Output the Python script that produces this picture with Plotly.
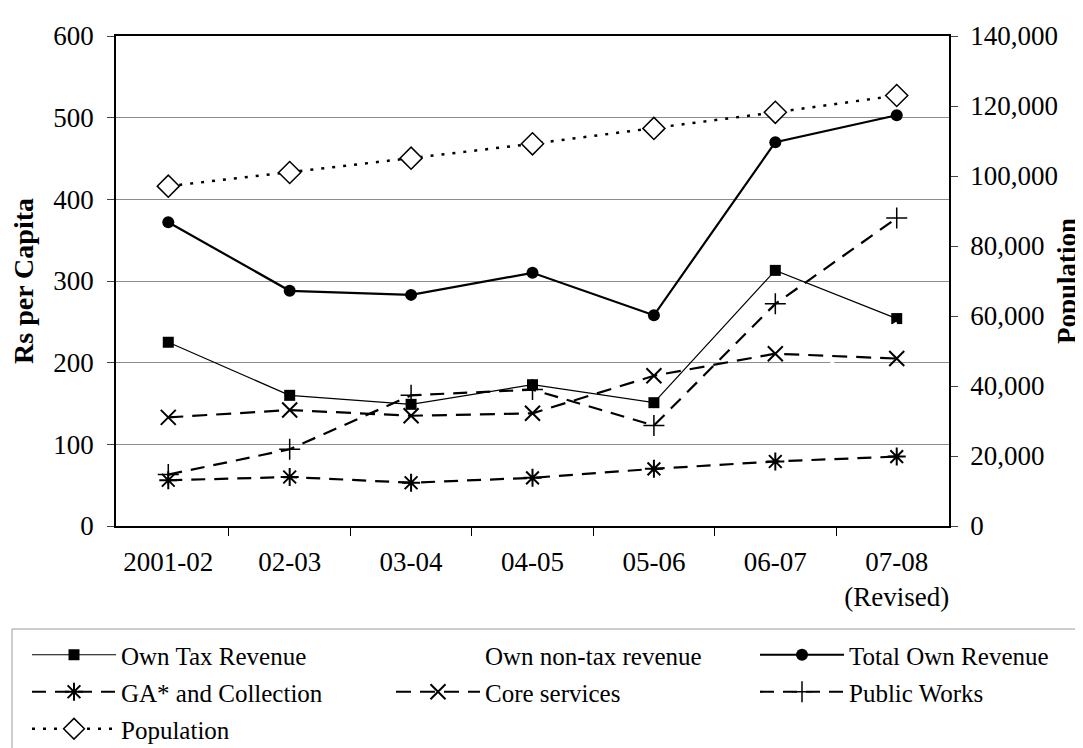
import plotly.graph_objects as go

years = ["2001-02", "02-03", "03-04", "04-05", "05-06", "06-07", "07-08<br>(Revised)"]
own_tax = [225, 160, 149, 173, 151, 313, 254]
own_non_tax = [147, 128, 134, 137, 107, 157, 249]
total_own = [372, 288, 283, 310, 258, 470, 503]
ga_collection = [56, 60, 53, 59, 70, 79, 85]
core_services = [133, 142, 135, 138, 184, 211, 205]
public_works = [63, 94, 160, 167, 123, 272, 377]
population = [97100, 101000, 105100, 109200, 113600, 118200, 123000]

FONT = "Liberation Serif, Times New Roman, serif"
fig = go.Figure()

def add(name, y, width, dash, symbol, size, legend, mline=1.5, yaxis="y", fill="black"):
    fig.add_trace(go.Scatter(
        x=years, y=y, name=name, mode="lines+markers", yaxis=yaxis, legend=legend,
        line=dict(color="black", width=width, dash=dash),
        marker=dict(symbol=symbol, size=size, color=fill,
                    line=dict(color="black", width=mline)),
    ))

add("Own Tax Revenue", own_tax, 1.2, "solid", "square", 11, "legend", mline=0)
fig.add_trace(go.Scatter(x=years, y=own_non_tax, name="Own non-tax revenue", mode="lines",
                         line=dict(color="white", width=2), legend="legend"))
add("Total Own Revenue", total_own, 2.2, "solid", "circle", 12, "legend4", mline=0)
add("GA* and Collection", ga_collection, 2.2, "14px,9px", "asterisk-open", 15, "legend2", mline=2)
add("Core services", core_services, 2.2, "15px,9px", "x-thin-open", 15, "legend2", mline=2)
add("Public Works", public_works, 2.2, "14px,9px", "cross-thin-open", 15, "legend5", mline=1.5)
add("Population", population, 2.5, "3px,8px", "diamond", 17, "legend3", mline=1.5,
    yaxis="y2", fill="white")

px0, px1, py0, py1 = 108, 941, 28, 518
W, H = px1 - px0, py1 - py0

def lx(p):
    return (p - px0) / W

def ly(p):
    return (py1 - p) / H

leg_common = dict(orientation="h", xanchor="left", yanchor="middle", entrywidth=265,
                  entrywidthmode="pixels", itemwidth=84, bgcolor="rgba(0,0,0,0)",
                  font=dict(family=FONT, size=25, color="black"))
rows = [647, 684, 721]
col1, col3 = 19, 747
fig.update_layout(
    width=1083, height=748,
    margin=dict(l=px0, r=1083 - px1, t=py0, b=748 - py1, autoexpand=False),
    paper_bgcolor="white", plot_bgcolor="white",
    font=dict(family=FONT, size=27, color="black"),
    showlegend=True,
    legend=dict(x=lx(col1), y=ly(rows[0]), **leg_common),
    legend4=dict(x=lx(col3), y=ly(rows[0]), **leg_common),
    legend2=dict(x=lx(col1), y=ly(rows[1]), **leg_common),
    legend5=dict(x=lx(col3), y=ly(rows[1]), **leg_common),
    legend3=dict(x=lx(col1), y=ly(rows[2]), **leg_common),
    xaxis=dict(type="category", showline=True, linecolor="black", linewidth=1.5, mirror=True,
               ticks="outside", tickson="boundaries", ticklen=8, tickcolor="black",
               showgrid=False, ticklabelstandoff=11, tickfont=dict(family=FONT, size=27)),
    yaxis=dict(range=[0, 600], dtick=100, showline=True, linecolor="black", linewidth=1.5,
               ticks="outside", ticklen=7, showgrid=True, gridcolor="#8c8c8c", gridwidth=1,
               zeroline=False, ticklabelstandoff=8, tickfont=dict(family=FONT, size=27),
               title=dict(text="<b>Rs per Capita</b>", font=dict(family=FONT, size=28), standoff=30)),
    yaxis2=dict(range=[0, 140000], dtick=20000, overlaying="y", side="right",
                showline=True, linecolor="black", linewidth=1.5, ticks="outside", ticklen=7,
                showgrid=False, zeroline=False, tickformat=",", ticklabelstandoff=7,
                tickfont=dict(family=FONT, size=27),
                title=dict(text="<b>Population</b>", font=dict(family=FONT, size=27), standoff=0)),
)
fig.add_shape(type="rect", xref="paper", yref="paper",
              x0=lx(4), x1=lx(1095), y0=ly(621), y1=ly(770),
              line=dict(color="#9a9a9a", width=1), fillcolor="rgba(0,0,0,0)", layer="below")

fig.write_html("out.html")
